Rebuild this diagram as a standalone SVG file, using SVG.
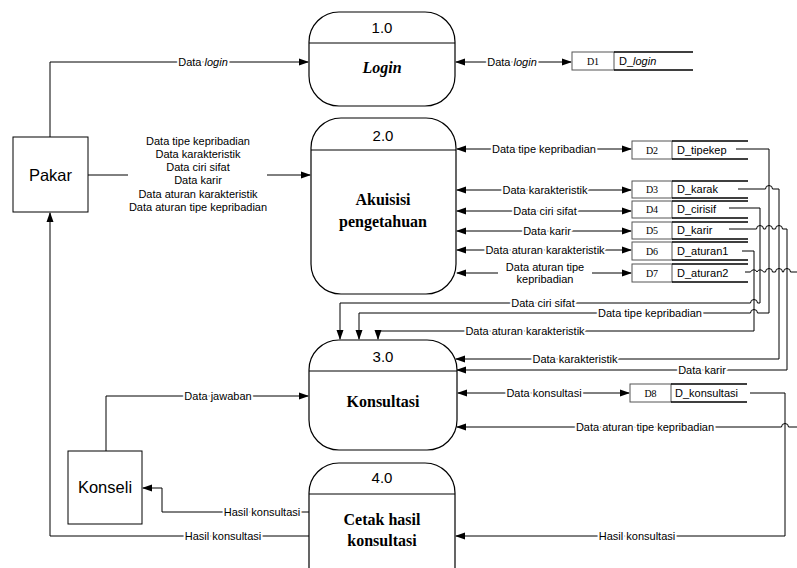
<svg xmlns="http://www.w3.org/2000/svg" width="797" height="568" viewBox="0 0 797 568">
<defs>
<marker id="ah" markerUnits="userSpaceOnUse" markerWidth="10" markerHeight="8" refX="9" refY="4" orient="auto-start-reverse" viewBox="0 0 10 8">
<path d="M0,0.5 L10,4 L0,7.5 Z" fill="#000"/>
</marker>
<style>
.ln{fill:none;stroke:#000;stroke-width:1}
.ar{marker-end:url(#ah)}
.bi{marker-start:url(#ah);marker-end:url(#ah)}
.lb{font-family:"Liberation Sans",Arial,sans-serif;font-size:11px;fill:#000;text-anchor:middle;stroke:#fff;stroke-width:4;paint-order:stroke;stroke-linejoin:round}
.ml{font-family:"Liberation Sans",Arial,sans-serif;font-size:11px;fill:#000;text-anchor:middle}
.proc{fill:#fff;stroke:#000;stroke-width:1.2}
.num{font-family:"Liberation Sans",Arial,sans-serif;font-size:15px;text-anchor:middle;fill:#000}
.pn{font-family:"Liberation Serif","Times New Roman",serif;font-size:16px;font-weight:bold;text-anchor:middle;fill:#000}
.ent{fill:#fff;stroke:#000;stroke-width:1}
.en{font-family:"Liberation Sans",Arial,sans-serif;font-size:16.5px;text-anchor:middle;fill:#000}
.sb{fill:#fff;stroke:#555;stroke-width:1}
.sl{stroke:#000;stroke-width:1.6;fill:none}
.sid{font-family:"Liberation Serif","Times New Roman",serif;font-size:10px;text-anchor:middle;fill:#000}
.snm{font-family:"Liberation Sans",Arial,sans-serif;font-size:11px;fill:#000}
</style>
</defs>

<g id="connectors">
<path class="ln ar" d="M50,137 L50,62 L308,62"/>
<path class="ln" d="M88,175 L128,175"/>
<path class="ln ar" d="M267,175 L310,175"/>
<path class="ln bi" d="M456,62 L571,62"/>
<path class="ln bi" d="M457,149 L631,149"/>
<path class="ln bi" d="M457,190 L631,190"/>
<path class="ln bi" d="M457,211 L631,211"/>
<path class="ln bi" d="M457,231 L631,231"/>
<path class="ln bi" d="M457,250 L631,250"/>
<path class="ln bi" d="M457,273 L631,273"/>
<path class="ln ar" d="M729,208 L760,208 L760,303 L757.5,303 A3.5,3.5 0 0 0 750.5,303 L340,303 L340,339"/>
<path class="ln ar" d="M736,149 L769,149 L769,313 L757.5,313 A3.5,3.5 0 0 0 750.5,313 L359,313 L359,339"/>
<path class="ln ar" d="M742,251 L754,251 L754,331 L378,331 L378,339"/>
<path class="ln ar" d="M738,189 L765.5,189 A3.5,3.5 0 0 1 772.5,189 L779,189 L779,359 L456,359"/>
<path class="ln ar" d="M729,229 L756.5,229 A3.5,3.5 0 0 1 763.5,229 L765.5,229 A3.5,3.5 0 0 1 772.5,229 L775.5,229 A3.5,3.5 0 0 1 782.5,229 L787,229 L787,370 L457,370"/>
<path class="ln" d="M745,272 L750.5,272 A3.5,3.5 0 0 1 757,272 A3.5,3.5 0 0 1 763.5,272 L765.5,272 A3.5,3.5 0 0 1 772.5,272 L775.5,272 A3.5,3.5 0 0 1 782.5,272 L783.5,272 A3.5,3.5 0 0 1 790.5,272 L797,272"/>
<path class="ln ar" d="M797,427 L788.5,427 A3.5,3.5 0 0 0 781.5,427 L457,427"/>
<path class="ln bi" d="M458,393 L629,393"/>
<path class="ln ar" d="M750,393 L785,393 L785,536 L456,536"/>
<path class="ln ar" d="M106,451 L106,396 L308,396"/>
<path class="ln ar" d="M309,512 L162,512 L162,488 L143,488"/>
<path class="ln ar" d="M309,536 L50,536 L50,213"/>

<text class="lb" x="203" y="66">Data <tspan font-style="italic">login</tspan></text>
<text class="ml" x="198" y="145">Data tipe kepribadian</text>
<text class="ml" x="198" y="158">Data karakteristik</text>
<text class="ml" x="198" y="171">Data ciri sifat</text>
<text class="ml" x="198" y="184">Data karir</text>
<text class="ml" x="198" y="198">Data aturan karakteristik</text>
<text class="ml" x="198" y="211">Data aturan tipe kepribadian</text>
<text class="lb" x="512" y="66">Data <tspan font-style="italic">login</tspan></text>
<text class="lb" x="544" y="153">Data tipe kepribadian</text>
<text class="lb" x="545" y="194">Data karakteristik</text>
<text class="lb" x="545" y="215">Data ciri sifat</text>
<text class="lb" x="547" y="235">Data karir</text>
<text class="lb" x="545" y="254">Data aturan karakteristik</text>
<rect x="498" y="261" width="94" height="24" fill="#fff"/>
<text class="ml" x="545" y="271">Data aturan tipe</text>
<text class="ml" x="545" y="283">kepribadian</text>
<text class="lb" x="543" y="307">Data ciri sifat</text>
<text class="lb" x="650" y="317">Data tipe kepribadian</text>
<text class="lb" x="525" y="335">Data aturan karakteristik</text>
<text class="lb" x="575" y="363">Data karakteristik</text>
<text class="lb" x="702" y="374">Data karir</text>
<text class="lb" x="544" y="397">Data konsultasi</text>
<text class="lb" x="645" y="431">Data aturan tipe kepribadian</text>
<text class="lb" x="218" y="400">Data jawaban</text>
<text class="lb" x="262" y="516">Hasil konsultasi</text>
<text class="lb" x="223" y="540">Hasil konsultasi</text>
<text class="lb" x="637" y="540">Hasil konsultasi</text>
</g>

<g id="pakar">
<rect class="ent" x="13" y="137" width="75" height="75"/>
<text class="en" x="50.5" y="181">Pakar</text>
</g>
<g id="konseli">
<rect class="ent" x="68" y="451" width="74" height="73"/>
<text class="en" x="105" y="493">Konseli</text>
</g>

<g id="p1">
<rect class="proc" x="309" y="12" width="146" height="94" rx="30" ry="30"/>
<line class="ln" x1="309" y1="43" x2="455" y2="43"/>
<text class="num" x="382" y="33">1.0</text>
<text class="pn" x="382" y="73" font-style="italic">Login</text>
</g>
<g id="p2">
<rect class="proc" x="311" y="118" width="145" height="176" rx="30" ry="30"/>
<line class="ln" x1="311" y1="150" x2="456" y2="150"/>
<text class="num" x="383" y="141">2.0</text>
<text class="pn" x="383" y="205">Akuisisi</text>
<text class="pn" x="383" y="227">pengetahuan</text>
</g>
<g id="p3">
<rect class="proc" x="309" y="340" width="148" height="110" rx="30" ry="30"/>
<line class="ln" x1="309" y1="371" x2="457" y2="371"/>
<text class="num" x="383" y="362">3.0</text>
<text class="pn" x="383" y="407">Konsultasi</text>
</g>
<g id="p4">
<rect class="proc" x="309" y="463" width="146" height="135" rx="30" ry="30"/>
<line class="ln" x1="309" y1="494" x2="455" y2="494"/>
<text class="num" x="382" y="483">4.0</text>
<text class="pn" x="382" y="525">Cetak hasil</text>
<text class="pn" x="382" y="546">konsultasi</text>
</g>

<g id="d1">
<rect class="sb" x="572" y="52" width="42" height="18"/>
<path class="sl" d="M614,52 L693,52 M614,70 L693,70"/>
<text class="sid" x="593" y="65">D1</text>
<text class="snm" x="619" y="65">D_<tspan font-style="italic">login</tspan></text>
</g>
<g id="d2">
<rect class="sb" x="632" y="141" width="40" height="18"/>
<path class="sl" d="M672,141 L748,141 M672,159 L748,159"/>
<text class="sid" x="652" y="154">D2</text>
<text class="snm" x="677" y="154">D_tipekep</text>
</g>
<g id="d3">
<rect class="sb" x="632" y="181" width="40" height="17"/>
<path class="sl" d="M672,181 L748,181 M672,198 L748,198"/>
<text class="sid" x="652" y="193">D3</text>
<text class="snm" x="677" y="193">D_karak</text>
</g>
<g id="d4">
<rect class="sb" x="632" y="201" width="40" height="17"/>
<path class="sl" d="M672,201 L748,201 M672,218 L748,218"/>
<text class="sid" x="652" y="213">D4</text>
<text class="snm" x="677" y="213">D_cirisif</text>
</g>
<g id="d5">
<rect class="sb" x="632" y="222" width="40" height="17"/>
<path class="sl" d="M672,222 L748,222 M672,239 L748,239"/>
<text class="sid" x="652" y="234">D5</text>
<text class="snm" x="677" y="234">D_karir</text>
</g>
<g id="d6">
<rect class="sb" x="632" y="242" width="40" height="18"/>
<path class="sl" d="M672,242 L748,242 M672,260 L748,260"/>
<text class="sid" x="652" y="255">D6</text>
<text class="snm" x="677" y="255">D_aturan1</text>
</g>
<g id="d7">
<rect class="sb" x="632" y="264" width="40" height="18"/>
<path class="sl" d="M672,264 L748,264 M672,282 L748,282"/>
<text class="sid" x="652" y="277">D7</text>
<text class="snm" x="677" y="277">D_aturan2</text>
</g>
<g id="d8">
<rect class="sb" x="630" y="384" width="41" height="18"/>
<path class="sl" d="M671,384 L747,384 M671,402 L747,402"/>
<text class="sid" x="650.5" y="397">D8</text>
<text class="snm" x="675" y="397">D_konsultasi</text>
</g>
</svg>
